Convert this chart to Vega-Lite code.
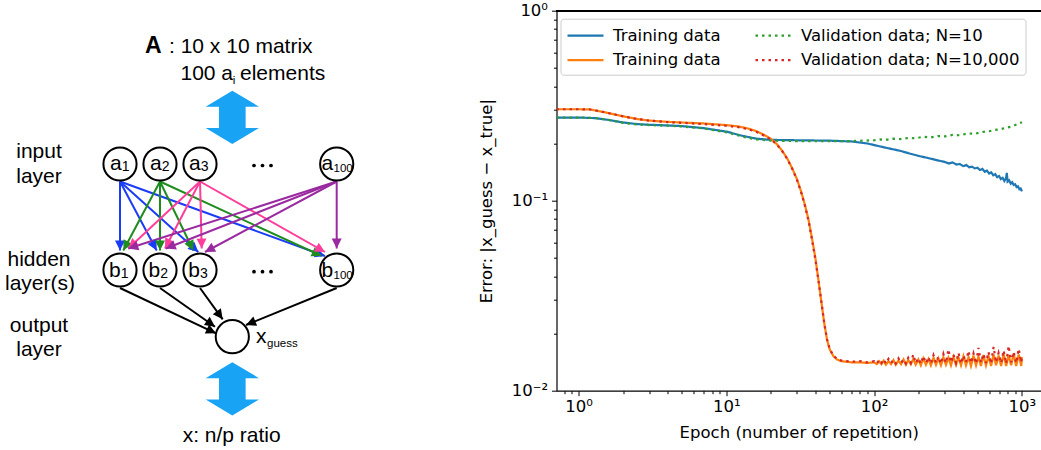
{
"$schema": "https://vega.github.io/schema/vega-lite/v6.json",
"width": 484.5,
"height": 380,
"autosize": {"type": "none"},
"padding": {"left": 556.5, "top": 10.7, "right": 0, "bottom": 59.3},
"background": "white",
"config": {"view": {"stroke": null}, "font": "DejaVu Sans"},
"datasets": {
"curves": [
{"s":"t10","e":0.708,"v":0.274},{"s":"t10","e":1,"v":0.274},{"s":"t10","e":1.3,"v":0.272},{"s":"t10","e":1.6,"v":0.266},{"s":"t10","e":2,"v":0.258},{"s":"t10","e":2.5,"v":0.253},{"s":"t10","e":3,"v":0.251},{"s":"t10","e":4,"v":0.249},{"s":"t10","e":5,"v":0.247},{"s":"t10","e":7,"v":0.241},{"s":"t10","e":10,"v":0.231},{"s":"t10","e":13,"v":0.219},{"s":"t10","e":16,"v":0.212},{"s":"t10","e":20,"v":0.209},{"s":"t10","e":30,"v":0.208},{"s":"t10","e":50,"v":0.207},{"s":"t10","e":70,"v":0.205},{"s":"t10","e":90,"v":0.2},{"s":"t10","e":120,"v":0.19},{"s":"t10","e":150,"v":0.183},{"s":"t10","e":170,"v":0.178},{"s":"t10","e":200,"v":0.172},{"s":"t10","e":230,"v":0.168},{"s":"t10","e":260,"v":0.164},{"s":"t10","e":300,"v":0.16},{"s":"t10","e":320,"v":0.157},{"s":"t10","e":340,"v":0.159},{"s":"t10","e":360,"v":0.155},{"s":"t10","e":380,"v":0.156},{"s":"t10","e":400,"v":0.152},{"s":"t10","e":420,"v":0.154},{"s":"t10","e":440,"v":0.15},{"s":"t10","e":460,"v":0.151},{"s":"t10","e":480,"v":0.148},{"s":"t10","e":500,"v":0.149},{"s":"t10","e":520,"v":0.145},{"s":"t10","e":540,"v":0.147},{"s":"t10","e":560,"v":0.142},{"s":"t10","e":580,"v":0.144},{"s":"t10","e":600,"v":0.139},{"s":"t10","e":620,"v":0.141},{"s":"t10","e":640,"v":0.136},{"s":"t10","e":660,"v":0.138},{"s":"t10","e":680,"v":0.133},{"s":"t10","e":700,"v":0.135},{"s":"t10","e":720,"v":0.13},{"s":"t10","e":740,"v":0.132},{"s":"t10","e":760,"v":0.127},{"s":"t10","e":780,"v":0.131},{"s":"t10","e":790,"v":0.14},{"s":"t10","e":800,"v":0.126},{"s":"t10","e":820,"v":0.128},{"s":"t10","e":840,"v":0.123},{"s":"t10","e":860,"v":0.125},{"s":"t10","e":880,"v":0.121},{"s":"t10","e":900,"v":0.122},{"s":"t10","e":920,"v":0.118},{"s":"t10","e":940,"v":0.119},{"s":"t10","e":960,"v":0.115},{"s":"t10","e":980,"v":0.116},{"s":"t10","e":1000,"v":0.112},
{"s":"t10k","e":0.708,"v":0.303},{"s":"t10k","e":1,"v":0.303},{"s":"t10k","e":1.2,"v":0.302},{"s":"t10k","e":1.5,"v":0.292},{"s":"t10k","e":2,"v":0.278},{"s":"t10k","e":2.5,"v":0.269},{"s":"t10k","e":3,"v":0.264},{"s":"t10k","e":4,"v":0.26},{"s":"t10k","e":5,"v":0.258},{"s":"t10k","e":7,"v":0.255},{"s":"t10k","e":10,"v":0.25},{"s":"t10k","e":12,"v":0.246},{"s":"t10k","e":14,"v":0.24},{"s":"t10k","e":16,"v":0.232},{"s":"t10k","e":18,"v":0.222},{"s":"t10k","e":20,"v":0.212},{"s":"t10k","e":22,"v":0.198},{"s":"t10k","e":24,"v":0.182},{"s":"t10k","e":26,"v":0.165},{"s":"t10k","e":28,"v":0.147},{"s":"t10k","e":30,"v":0.13},{"s":"t10k","e":32,"v":0.112},{"s":"t10k","e":34,"v":0.095},{"s":"t10k","e":36,"v":0.079},{"s":"t10k","e":38,"v":0.063},{"s":"t10k","e":40,"v":0.05},{"s":"t10k","e":42,"v":0.038},{"s":"t10k","e":44,"v":0.029},{"s":"t10k","e":46,"v":0.0225},{"s":"t10k","e":48,"v":0.0185},{"s":"t10k","e":50,"v":0.0165},{"s":"t10k","e":53,"v":0.0152},{"s":"t10k","e":56,"v":0.0146},{"s":"t10k","e":60,"v":0.0143},{"s":"t10k","e":65,"v":0.0142},{"s":"t10k","e":70,"v":0.0141},{"s":"t10k","e":80,"v":0.0141},{"s":"t10k","e":90,"v":0.014},{"s":"t10k","e":100,"v":0.0141},{"s":"t10k","e":104,"v":0.0138},{"s":"t10k","e":108,"v":0.0143},{"s":"t10k","e":112,"v":0.0138},{"s":"t10k","e":116,"v":0.0144},{"s":"t10k","e":120,"v":0.0137},{"s":"t10k","e":125,"v":0.0143},{"s":"t10k","e":130,"v":0.0138},{"s":"t10k","e":135,"v":0.0145},{"s":"t10k","e":140,"v":0.0137},{"s":"t10k","e":146,"v":0.0144},{"s":"t10k","e":152,"v":0.0138},{"s":"t10k","e":158,"v":0.0146},{"s":"t10k","e":164,"v":0.0137},{"s":"t10k","e":170,"v":0.0145},{"s":"t10k","e":177,"v":0.0138},{"s":"t10k","e":184,"v":0.0147},{"s":"t10k","e":191,"v":0.0137},{"s":"t10k","e":199,"v":0.0146},{"s":"t10k","e":207,"v":0.0136},{"s":"t10k","e":215,"v":0.0148},{"s":"t10k","e":224,"v":0.0137},{"s":"t10k","e":233,"v":0.0147},{"s":"t10k","e":242,"v":0.0136},{"s":"t10k","e":252,"v":0.0149},{"s":"t10k","e":262,"v":0.0137},{"s":"t10k","e":272,"v":0.0148},{"s":"t10k","e":283,"v":0.0136},{"s":"t10k","e":294,"v":0.015},{"s":"t10k","e":306,"v":0.0137},{"s":"t10k","e":318,"v":0.0149},{"s":"t10k","e":331,"v":0.0136},{"s":"t10k","e":344,"v":0.0151},{"s":"t10k","e":358,"v":0.0137},{"s":"t10k","e":372,"v":0.015},{"s":"t10k","e":387,"v":0.0136},{"s":"t10k","e":402,"v":0.0152},{"s":"t10k","e":418,"v":0.0136},{"s":"t10k","e":435,"v":0.015},{"s":"t10k","e":452,"v":0.0135},{"s":"t10k","e":470,"v":0.0153},{"s":"t10k","e":489,"v":0.0136},{"s":"t10k","e":508,"v":0.0151},{"s":"t10k","e":528,"v":0.0135},{"s":"t10k","e":549,"v":0.0154},{"s":"t10k","e":571,"v":0.0136},{"s":"t10k","e":594,"v":0.0152},{"s":"t10k","e":618,"v":0.0135},{"s":"t10k","e":643,"v":0.0155},{"s":"t10k","e":668,"v":0.0136},{"s":"t10k","e":695,"v":0.0153},{"s":"t10k","e":723,"v":0.0135},{"s":"t10k","e":752,"v":0.0156},{"s":"t10k","e":782,"v":0.0135},{"s":"t10k","e":813,"v":0.0154},{"s":"t10k","e":845,"v":0.0136},{"s":"t10k","e":879,"v":0.0157},{"s":"t10k","e":914,"v":0.0135},{"s":"t10k","e":951,"v":0.0155},{"s":"t10k","e":989,"v":0.0135},{"s":"t10k","e":1000,"v":0.015},
{"s":"v10","e":0.708,"v":0.274},{"s":"v10","e":1,"v":0.274},{"s":"v10","e":1.3,"v":0.272},{"s":"v10","e":1.6,"v":0.266},{"s":"v10","e":2,"v":0.257},{"s":"v10","e":2.5,"v":0.252},{"s":"v10","e":3,"v":0.25},{"s":"v10","e":4,"v":0.248},{"s":"v10","e":5,"v":0.246},{"s":"v10","e":7,"v":0.24},{"s":"v10","e":10,"v":0.229},{"s":"v10","e":13,"v":0.217},{"s":"v10","e":16,"v":0.21},{"s":"v10","e":20,"v":0.207},{"s":"v10","e":30,"v":0.206},{"s":"v10","e":50,"v":0.206},{"s":"v10","e":70,"v":0.206},{"s":"v10","e":100,"v":0.208},{"s":"v10","e":110,"v":0.21},{"s":"v10","e":120,"v":0.209},{"s":"v10","e":135,"v":0.212},{"s":"v10","e":150,"v":0.211},{"s":"v10","e":170,"v":0.214},{"s":"v10","e":190,"v":0.213},{"s":"v10","e":215,"v":0.217},{"s":"v10","e":240,"v":0.215},{"s":"v10","e":270,"v":0.219},{"s":"v10","e":300,"v":0.218},{"s":"v10","e":340,"v":0.222},{"s":"v10","e":380,"v":0.221},{"s":"v10","e":430,"v":0.226},{"s":"v10","e":480,"v":0.225},{"s":"v10","e":540,"v":0.23},{"s":"v10","e":600,"v":0.232},{"s":"v10","e":660,"v":0.236},{"s":"v10","e":720,"v":0.238},{"s":"v10","e":780,"v":0.242},{"s":"v10","e":840,"v":0.245},{"s":"v10","e":900,"v":0.25},{"s":"v10","e":950,"v":0.254},{"s":"v10","e":1000,"v":0.259},
{"s":"v10k","e":0.708,"v":0.303},{"s":"v10k","e":1,"v":0.303},{"s":"v10k","e":1.2,"v":0.302},{"s":"v10k","e":1.5,"v":0.292},{"s":"v10k","e":2,"v":0.278},{"s":"v10k","e":2.5,"v":0.269},{"s":"v10k","e":3,"v":0.264},{"s":"v10k","e":4,"v":0.259},{"s":"v10k","e":5,"v":0.257},{"s":"v10k","e":7,"v":0.253},{"s":"v10k","e":10,"v":0.248},{"s":"v10k","e":12,"v":0.244},{"s":"v10k","e":14,"v":0.238},{"s":"v10k","e":16,"v":0.23},{"s":"v10k","e":18,"v":0.22},{"s":"v10k","e":20,"v":0.21},{"s":"v10k","e":22,"v":0.197},{"s":"v10k","e":24,"v":0.181},{"s":"v10k","e":26,"v":0.164},{"s":"v10k","e":28,"v":0.146},{"s":"v10k","e":30,"v":0.129},{"s":"v10k","e":32,"v":0.111},{"s":"v10k","e":34,"v":0.094},{"s":"v10k","e":36,"v":0.078},{"s":"v10k","e":38,"v":0.062},{"s":"v10k","e":40,"v":0.049},{"s":"v10k","e":42,"v":0.038},{"s":"v10k","e":44,"v":0.029},{"s":"v10k","e":46,"v":0.0225},{"s":"v10k","e":48,"v":0.0186},{"s":"v10k","e":50,"v":0.0166},{"s":"v10k","e":53,"v":0.0153},{"s":"v10k","e":56,"v":0.0147},{"s":"v10k","e":60,"v":0.0144},{"s":"v10k","e":65,"v":0.0143},{"s":"v10k","e":70,"v":0.0142},{"s":"v10k","e":80,"v":0.0143},{"s":"v10k","e":90,"v":0.0141},{"s":"v10k","e":100,"v":0.0143},{"s":"v10k","e":104,"v":0.0139},{"s":"v10k","e":108,"v":0.0145},{"s":"v10k","e":112,"v":0.014},{"s":"v10k","e":116,"v":0.0146},{"s":"v10k","e":120,"v":0.0139},{"s":"v10k","e":125,"v":0.0147},{"s":"v10k","e":130,"v":0.014},{"s":"v10k","e":135,"v":0.0145},{"s":"v10k","e":140,"v":0.0139},{"s":"v10k","e":146,"v":0.0148},{"s":"v10k","e":152,"v":0.014},{"s":"v10k","e":158,"v":0.0146},{"s":"v10k","e":164,"v":0.0139},{"s":"v10k","e":170,"v":0.0149},{"s":"v10k","e":177,"v":0.014},{"s":"v10k","e":184,"v":0.0155},{"s":"v10k","e":191,"v":0.014},{"s":"v10k","e":199,"v":0.0148},{"s":"v10k","e":207,"v":0.0139},{"s":"v10k","e":215,"v":0.0152},{"s":"v10k","e":224,"v":0.014},{"s":"v10k","e":233,"v":0.015},{"s":"v10k","e":242,"v":0.0139},{"s":"v10k","e":252,"v":0.0154},{"s":"v10k","e":262,"v":0.014},{"s":"v10k","e":272,"v":0.0151},{"s":"v10k","e":283,"v":0.0139},{"s":"v10k","e":294,"v":0.0156},{"s":"v10k","e":306,"v":0.014},{"s":"v10k","e":318,"v":0.0165},{"s":"v10k","e":331,"v":0.0141},{"s":"v10k","e":344,"v":0.0155},{"s":"v10k","e":358,"v":0.014},{"s":"v10k","e":372,"v":0.0158},{"s":"v10k","e":387,"v":0.0139},{"s":"v10k","e":402,"v":0.0153},{"s":"v10k","e":418,"v":0.0141},{"s":"v10k","e":435,"v":0.0162},{"s":"v10k","e":452,"v":0.014},{"s":"v10k","e":470,"v":0.0157},{"s":"v10k","e":489,"v":0.0139},{"s":"v10k","e":508,"v":0.0168},{"s":"v10k","e":528,"v":0.0141},{"s":"v10k","e":549,"v":0.0156},{"s":"v10k","e":571,"v":0.014},{"s":"v10k","e":594,"v":0.016},{"s":"v10k","e":618,"v":0.0139},{"s":"v10k","e":643,"v":0.017},{"s":"v10k","e":668,"v":0.0141},{"s":"v10k","e":695,"v":0.0158},{"s":"v10k","e":723,"v":0.014},{"s":"v10k","e":752,"v":0.0163},{"s":"v10k","e":782,"v":0.0139},{"s":"v10k","e":813,"v":0.0172},{"s":"v10k","e":845,"v":0.0141},{"s":"v10k","e":879,"v":0.016},{"s":"v10k","e":914,"v":0.014},{"s":"v10k","e":951,"v":0.0166},{"s":"v10k","e":989,"v":0.0141},{"s":"v10k","e":1000,"v":0.0152}
],
"nodes": [
{"n":"a1","x":120,"y":164},{"n":"a2","x":160,"y":164},{"n":"a3","x":200,"y":164},{"n":"a100","x":336.7,"y":164},
{"n":"b1","x":120,"y":270},{"n":"b2","x":160,"y":270},{"n":"b3","x":200,"y":270},{"n":"b100","x":336.7,"y":270},
{"n":"out","x":232.3,"y":336.7}
],
"edges": [
{"g":"a1","x":120,"y":181.5,"x2":120,"y2":250.5},{"g":"a1","x":120,"y":181.5,"x2":156.7,"y2":250.5},{"g":"a1","x":120,"y":181.5,"x2":198.3,"y2":252},{"g":"a1","x":120,"y":181.5,"x2":325,"y2":256},
{"g":"a2","x":160,"y":181.5,"x2":123.3,"y2":250.5},{"g":"a2","x":160,"y":181.5,"x2":160,"y2":250.5},{"g":"a2","x":160,"y":181.5,"x2":193.3,"y2":250.5},{"g":"a2","x":160,"y":181.5,"x2":321.7,"y2":256},
{"g":"a3","x":200,"y":181.5,"x2":128.3,"y2":248.5},{"g":"a3","x":200,"y":181.5,"x2":165,"y2":248.5},{"g":"a3","x":200,"y":181.5,"x2":201.7,"y2":248.5},{"g":"a3","x":200,"y":181.5,"x2":325,"y2":252},
{"g":"a100","x":336.7,"y":181.5,"x2":128.3,"y2":248.5},{"g":"a100","x":336.7,"y":181.5,"x2":165.7,"y2":248.5},{"g":"a100","x":336.7,"y":181.5,"x2":205,"y2":252},{"g":"a100","x":336.7,"y":181.5,"x2":336.7,"y2":248.5},
{"g":"b","x":120,"y":288,"x2":216,"y2":333.3},{"g":"b","x":160,"y":288,"x2":215,"y2":326.7},{"g":"b","x":200,"y":288,"x2":222.7,"y2":319.3},{"g":"b","x":336.7,"y":288,"x2":246,"y2":325}
],
"bigarrows": [{"x":232.3,"y":117.3},{"x":232.3,"y":388.8}],
"dots": [{"x":254,"y":165.5},{"x":262.5,"y":165.5},{"x":271,"y":165.5},{"x":254,"y":271.7},{"x":262.5,"y":271.7},{"x":271,"y":271.7}],
"tcenter": [{"t":"input","x":39,"y":158.3},{"t":"layer","x":39,"y":182.7},{"t":"hidden","x":39,"y":265.7},{"t":"layer(s)","x":40,"y":290},{"t":"output","x":39,"y":331.7},{"t":"layer","x":39,"y":356},{"t":"x: n/p ratio","x":231.7,"y":441.7}],
"tleft": [{"t":": 10 x 10 matrix","x":169,"y":52.7},{"t":"100 a","x":180.5,"y":80},{"t":"elements","x":240,"y":80},{"t":"x","x":256,"y":343.3}],
"tright": [{"t":"a","x":121.7,"y":170},{"t":"a","x":161.7,"y":170},{"t":"a","x":200.7,"y":170},{"t":"a","x":333.3,"y":170},{"t":"b","x":120.7,"y":276.7},{"t":"b","x":160.3,"y":276.7},{"t":"b","x":200,"y":276.7},{"t":"b","x":333.3,"y":276.7}],
"tsub": [{"t":"1","x":121.7,"y":171},{"t":"2","x":161.7,"y":171},{"t":"3","x":200.7,"y":171},{"t":"1","x":120.7,"y":277.7},{"t":"2","x":160.3,"y":277.7},{"t":"3","x":200,"y":277.7}],
"tsmall": [{"t":"100","x":333.5,"y":172},{"t":"100","x":333.5,"y":278.7},{"t":"guess","x":267,"y":347},{"t":"i","x":232.8,"y":83.5}],
"tbold": [{"t":"A","x":145,"y":52.7}]
},
"resolve": {"scale": {"x": "independent", "y": "independent", "color": "independent", "strokeDash": "independent"}},
"layer": [
{
"data": {"name": "curves"},
"layer": [
{
"mark": {"type": "line", "strokeWidth": 2.2, "clip": true},
"encoding": {
"x": {"field": "e", "type": "quantitative", "scale": {"type": "log", "domain": [0.708, 1346], "nice": false},
"axis": {"orient": "bottom", "values": [0.8,0.9,1,2,3,4,5,6,7,8,9,10,20,30,40,50,60,70,80,90,100,200,300,400,500,600,700,800,900,1000],
"labelExpr": "datum.value == 1 ? '10⁰' : datum.value == 10 ? '10¹' : datum.value == 100 ? '10²' : datum.value == 1000 ? '10³' : ''",
"tickSize": {"condition": {"test": "indexof([1,10,100,1000], datum.value) >= 0", "value": 5}, "value": 3},
"labelFontSize": 16.5, "labelFont": "DejaVu Sans", "labelColor": "black", "labelPadding": 3, "labelOverlap": false, "labelFlush": false, "labelBound": false,
"title": "Epoch (number of repetition)", "titleFontSize": 16.5, "titleFont": "DejaVu Sans", "titleFontWeight": "normal", "titleColor": "black", "titlePadding": 9,
"grid": false, "domainColor": "black", "domainWidth": 1.2, "tickColor": "black", "tickWidth": 1}},
"y": {"field": "v", "type": "quantitative", "scale": {"type": "log", "domain": [0.01, 1], "nice": false},
"axis": {"orient": "left", "values": [0.01,0.02,0.03,0.04,0.05,0.06,0.07,0.08,0.09,0.1,0.2,0.3,0.4,0.5,0.6,0.7,0.8,0.9,1],
"labelExpr": "datum.value == 1 ? '10⁰' : datum.value == 0.1 ? '10⁻¹' : datum.value == 0.01 ? '10⁻²' : ''",
"tickSize": {"condition": {"test": "indexof([0.01,0.1,1], datum.value) >= 0", "value": 5}, "value": 3},
"labelFontSize": 16.5, "labelFont": "DejaVu Sans", "labelColor": "black", "labelPadding": 4, "labelOverlap": false, "labelFlush": false, "labelBound": false,
"title": "Error: |x_guess − x_true|", "titleFontSize": 16.5, "titleFont": "DejaVu Sans", "titleFontWeight": "normal", "titleColor": "black", "titlePadding": 17,
"grid": false, "domainColor": "black", "domainWidth": 1.2, "tickColor": "black", "tickWidth": 1}},
"color": {"field": "s", "type": "nominal", "sort": null,
"scale": {"domain": ["t10","t10k","v10","v10k"], "range": ["#1f77b4","#ff7f0e","#2ca02c","#d62728"]},
"legend": {"orient": "none", "legendX": 4, "legendY": 8, "columns": 2, "title": null, "symbolType": "M-1,0L2.6,0", "symbolSize": 400, "symbolStrokeWidth": 2.2,
"labelFontSize": 16.5, "labelFont": "DejaVu Sans", "labelColor": "black", "labelOffset": 24, "labelLimit": 400, "columnPadding": 30, "rowPadding": 4.5, "padding": 5.5,
"strokeColor": "#cccccc", "fillColor": "white", "cornerRadius": 3,
"labelExpr": "datum.value == 't10' || datum.value == 't10k' ? 'Training data' : datum.value == 'v10' ? 'Validation data; N=10' : 'Validation data; N=10,000'"}},
"strokeDash": {"field": "s", "type": "nominal", "sort": null,
"scale": {"domain": ["t10","t10k","v10","v10k"], "range": [[1,0],[1,0],[2.5,4],[2.5,4]]}}
}
},
{
"mark": {"type": "rule", "color": "black", "strokeWidth": 1.2},
"encoding": {"y": {"datum": 1}}
}
]
},
{
"data": {"name": "edges"},
"mark": {"type": "rule", "strokeWidth": 2},
"encoding": {
"x": {"field": "x", "type": "quantitative", "scale": {"domain": [556.5, 1041], "nice": false, "zero": false}, "axis": null},
"y": {"field": "y", "type": "quantitative", "scale": {"domain": [10.7, 390.7], "reverse": true, "nice": false, "zero": false}, "axis": null},
"x2": {"field": "x2"},
"y2": {"field": "y2"},
"color": {"field": "g", "type": "nominal", "scale": {"domain": ["a1","a2","a3","a100","b"], "range": ["#1a3cf5","#1e8c1e","#ff3d9a","#9a2aa0","#000000"]}, "legend": null}
}
},
{
"data": {"name": "nodes"},
"mark": {"type": "point", "shape": "circle", "size": 1100, "filled": true, "fill": "white", "stroke": "black", "strokeWidth": 2, "opacity": 1},
"encoding": {
"x": {"field": "x", "type": "quantitative", "scale": {"domain": [556.5, 1041], "nice": false, "zero": false}, "axis": null},
"y": {"field": "y", "type": "quantitative", "scale": {"domain": [10.7, 390.7], "reverse": true, "nice": false, "zero": false}, "axis": null}
}
},
{
"data": {"name": "edges"},
"transform": [{"calculate": "atan2(datum.x2 - datum.x, datum.y - datum.y2) * 180 / PI", "as": "ang"}],
"mark": {"type": "point", "shape": "M0,0L-0.5,1L0.5,1Z", "size": 400, "filled": true, "opacity": 1, "strokeWidth": 0},
"encoding": {
"x": {"field": "x2", "type": "quantitative", "scale": {"domain": [556.5, 1041], "nice": false, "zero": false}, "axis": null},
"y": {"field": "y2", "type": "quantitative", "scale": {"domain": [10.7, 390.7], "reverse": true, "nice": false, "zero": false}, "axis": null},
"angle": {"field": "ang", "type": "quantitative", "scale": null},
"color": {"field": "g", "type": "nominal", "scale": {"domain": ["a1","a2","a3","a100","b"], "range": ["#1a3cf5","#1e8c1e","#ff3d9a","#9a2aa0","#000000"]}, "legend": null}
}
},
{
"data": {"name": "bigarrows"},
"mark": {"type": "point", "shape": "M0,-1L1,-0.4L0.5,-0.4L0.5,0.4L1,0.4L0,1L-1,0.4L-0.5,0.4L-0.5,-0.4L-1,-0.4Z", "size": 2841, "filled": true, "color": "#18a3f5", "opacity": 1, "strokeWidth": 0},
"encoding": {
"x": {"field": "x", "type": "quantitative", "scale": {"domain": [556.5, 1041], "nice": false, "zero": false}, "axis": null},
"y": {"field": "y", "type": "quantitative", "scale": {"domain": [10.7, 390.7], "reverse": true, "nice": false, "zero": false}, "axis": null}
}
},
{
"data": {"name": "dots"},
"mark": {"type": "point", "shape": "circle", "size": 14, "filled": true, "color": "black", "opacity": 1},
"encoding": {
"x": {"field": "x", "type": "quantitative", "scale": {"domain": [556.5, 1041], "nice": false, "zero": false}, "axis": null},
"y": {"field": "y", "type": "quantitative", "scale": {"domain": [10.7, 390.7], "reverse": true, "nice": false, "zero": false}, "axis": null}
}
},
{
"data": {"name": "tcenter"},
"mark": {"type": "text", "font": "Liberation Sans", "fontSize": 21, "align": "center", "baseline": "alphabetic", "color": "black"},
"encoding": {
"x": {"field": "x", "type": "quantitative", "scale": {"domain": [556.5, 1041], "nice": false, "zero": false}, "axis": null},
"y": {"field": "y", "type": "quantitative", "scale": {"domain": [10.7, 390.7], "reverse": true, "nice": false, "zero": false}, "axis": null},
"text": {"field": "t"}
}
},
{
"data": {"name": "tleft"},
"mark": {"type": "text", "font": "Liberation Sans", "fontSize": 21, "align": "left", "baseline": "alphabetic", "color": "black"},
"encoding": {
"x": {"field": "x", "type": "quantitative", "scale": {"domain": [556.5, 1041], "nice": false, "zero": false}, "axis": null},
"y": {"field": "y", "type": "quantitative", "scale": {"domain": [10.7, 390.7], "reverse": true, "nice": false, "zero": false}, "axis": null},
"text": {"field": "t"}
}
},
{
"data": {"name": "tright"},
"mark": {"type": "text", "font": "Liberation Sans", "fontSize": 21, "align": "right", "baseline": "alphabetic", "color": "black"},
"encoding": {
"x": {"field": "x", "type": "quantitative", "scale": {"domain": [556.5, 1041], "nice": false, "zero": false}, "axis": null},
"y": {"field": "y", "type": "quantitative", "scale": {"domain": [10.7, 390.7], "reverse": true, "nice": false, "zero": false}, "axis": null},
"text": {"field": "t"}
}
},
{
"data": {"name": "tsub"},
"mark": {"type": "text", "font": "Liberation Sans", "fontSize": 14, "align": "left", "baseline": "alphabetic", "color": "black"},
"encoding": {
"x": {"field": "x", "type": "quantitative", "scale": {"domain": [556.5, 1041], "nice": false, "zero": false}, "axis": null},
"y": {"field": "y", "type": "quantitative", "scale": {"domain": [10.7, 390.7], "reverse": true, "nice": false, "zero": false}, "axis": null},
"text": {"field": "t"}
}
},
{
"data": {"name": "tsmall"},
"mark": {"type": "text", "font": "Liberation Sans", "fontSize": 11.5, "align": "left", "baseline": "alphabetic", "color": "black"},
"encoding": {
"x": {"field": "x", "type": "quantitative", "scale": {"domain": [556.5, 1041], "nice": false, "zero": false}, "axis": null},
"y": {"field": "y", "type": "quantitative", "scale": {"domain": [10.7, 390.7], "reverse": true, "nice": false, "zero": false}, "axis": null},
"text": {"field": "t"}
}
},
{
"data": {"name": "tbold"},
"mark": {"type": "text", "font": "Liberation Sans", "fontSize": 23, "fontWeight": "bold", "align": "left", "baseline": "alphabetic", "color": "black"},
"encoding": {
"x": {"field": "x", "type": "quantitative", "scale": {"domain": [556.5, 1041], "nice": false, "zero": false}, "axis": null},
"y": {"field": "y", "type": "quantitative", "scale": {"domain": [10.7, 390.7], "reverse": true, "nice": false, "zero": false}, "axis": null},
"text": {"field": "t"}
}
}
]
}
